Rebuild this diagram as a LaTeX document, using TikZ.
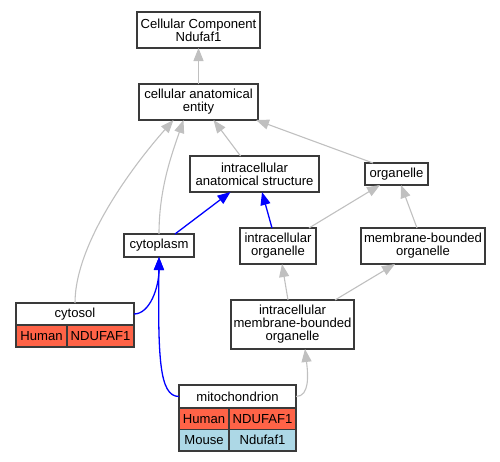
\documentclass[tikz,border=0pt]{standalone}
\usepackage{fontspec}
\setmainfont{Liberation Sans}
\usetikzlibrary{arrows.meta, positioning}

\definecolor{isagray}{HTML}{C0C0C0}
\definecolor{humanred}{HTML}{FF6347}
\definecolor{mouseblue}{HTML}{ADD8E6}
\definecolor{boxline}{HTML}{3A3A3A}

\begin{document}
\begin{tikzpicture}[x=1pt, y=1pt, >={Triangle[length=13pt, width=10pt]},
    term/.style={rectangle, draw=boxline, line width=1.4pt, fill=white, align=center, inner sep=0pt, outer sep=0pt, font=\fontsize{13.1}{13}\selectfont},
    cell/.style={term, minimum height=22pt},
    isa/.style={->, isagray, line width=1.1pt},
    partof/.style={->, blue, line width=1.3pt}]

    \useasboundingbox (0,0) rectangle (500,-461);

    \node (root) [term, minimum width=123pt, minimum height=36pt] at (198.5,-30) {Cellular Component\\Ndufaf1};
    \node (cae) [term, minimum width=119pt, minimum height=36pt, below=36pt of root] {cellular anatomical\\entity};

    % Middle layer
    \node (ias) [term, minimum width=129pt, minimum height=36pt] at (254.5,-174) {intracellular\\anatomical structure};
    \node (organelle) [term, minimum width=63pt, minimum height=22pt] at (396.5,-174) {organelle};
    \node (cytoplasm) [term, minimum width=70pt, minimum height=23pt] at (159,-245.5) {cytoplasm};
    \node (io) [term, minimum width=76pt, minimum height=36pt] at (278,-246) {intracellular\\organelle};
    \node (mbo) [term, minimum width=124pt, minimum height=36pt, right=45pt of io] {membrane-bounded\\organelle};
    \node (imbo) [term, minimum width=123pt, minimum height=49pt] at (292.5,-324.5) {intracellular\\membrane-bounded\\organelle};

    % Annotated terms
    \node (cytosol) [term, minimum width=118pt, minimum height=22pt] at (75,-314) {cytosol};
    \node (cytosol_hs) [cell, fill=humanred, minimum width=51pt, below right=0pt and 0pt of cytosol.south west] {Human};
    \node (cytosol_hs_gene) [cell, fill=humanred, minimum width=67pt, right=0pt of cytosol_hs] {NDUFAF1};

    \node (mito) [term, minimum width=117pt, minimum height=23pt] at (237.5,-396.5) {mitochondrion};
    \node (mito_hs) [cell, fill=humanred, minimum width=50pt, minimum height=21.5pt, below right=0pt and 0pt of mito.south west] {Human};
    \node (mito_hs_gene) [cell, fill=humanred, minimum width=67pt, minimum height=21.5pt, right=0pt of mito_hs] {NDUFAF1};
    \node (mito_mm) [cell, fill=mouseblue, minimum width=50pt, minimum height=21.5pt, below=0pt of mito_hs] {Mouse};
    \node (mito_mm_gene) [cell, fill=mouseblue, minimum width=67pt, minimum height=21.5pt, right=0pt of mito_mm] {Ndufaf1};

    % is_a edges
    \draw[isa] (cae) -- (root);
    \draw[isa] (cytosol.north) .. controls +(0,60) and +(-40,-45) .. ([xshift=-25pt]cae.south);
    \draw[isa] (cytoplasm.north) .. controls +(0,45) and +(-12,-35) .. ([xshift=-15pt]cae.south);
    \draw[isa] ([xshift=-14pt]ias.north) -- ([xshift=15pt]cae.south);
    \draw[isa] ([xshift=-23.5pt]organelle.north) -- ([xshift=-2pt]cae.south east);
    \draw[isa] ([xshift=31pt]io.north) -- ([xshift=-16.5pt]organelle.south);
    \draw[isa] ([xshift=-6pt]mbo.north) -- ([xshift=4.5pt]organelle.south);
    \draw[isa] ([xshift=-4.5pt]imbo.north) -- ([xshift=4pt]io.south);
    \draw[isa] ([xshift=42.5pt]imbo.north) -- ([xshift=-28pt]mbo.south);
    \draw[isa] (mito.east) .. controls +(14,0) and +(3,-25) .. ([xshift=12.5pt]imbo.south);

    % part_of edges
    \draw[partof] ([xshift=16pt]cytoplasm.north) -- ([xshift=-24pt]ias.south);
    \draw[partof] ([xshift=-6pt]io.north) -- ([xshift=7.5pt]ias.south);
    \draw[partof] (cytosol.east) .. controls +(16,0) and +(0,-30) .. (cytoplasm.south);
    \draw[partof] (mito.west) .. controls +(-20,0) and +(-1,-100) .. (cytoplasm.south);

\end{tikzpicture}
\end{document}
